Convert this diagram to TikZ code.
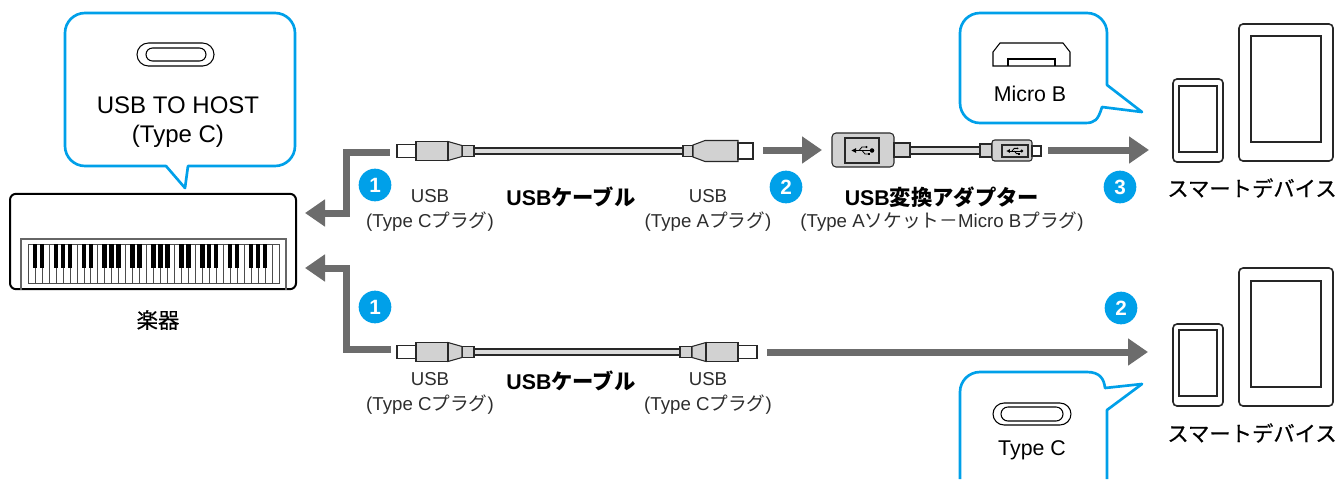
\documentclass[tikz,border=0pt]{standalone}
\usepackage{fontspec}
\setmainfont{Liberation Sans}
\newfontfamily\jp{Noto Sans CJK JP}
\newfontfamily\jpm{Noto Sans CJK JP}[FakeBold=0.6]
\usetikzlibrary{arrows.meta}
\definecolor{callblue}{RGB}{0,160,233}
\definecolor{arrowgray}{RGB}{108,108,108}
\definecolor{pluggray}{RGB}{210,210,210}
\definecolor{plugedge}{RGB}{40,40,40}
\definecolor{labelgray}{RGB}{45,45,45}
\begin{document}
\begin{tikzpicture}[x=0.75pt,y=0.75pt,
  callout/.style={draw=callblue, line width=2pt, fill=white, line join=round},
  flow/.style={draw=arrowgray, line width=5.25pt, -{Triangle[length=15pt,width=19.5pt]}},
  plugline/.style={draw=plugedge, line width=0.8pt, fill=pluggray},
  badge/.style={circle, fill=callblue, text=white, minimum size=24.5pt, inner sep=0pt,
    font=\fontsize{15.5}{15.5}\selectfont\bfseries},
  lab/.style={text=labelgray, inner sep=0pt, align=center, font=\fontsize{14}{16}\selectfont},
  title/.style={text=black, inner sep=0pt, font=\fontsize{16}{18}\selectfont\bfseries},
  devname/.style={inner sep=0pt, font=\fontsize{16}{18}\selectfont\jpm},
  calltext/.style={inner sep=0pt, align=center, font=\fontsize{16}{18}\selectfont},
  port/.style={draw=black, line width=0.8pt},
  device/.style={draw=black!85, line width=1.2pt, rounded corners=3pt, inner sep=0pt},
  screen/.style={draw=black!85, line width=0.8pt},
  pics/cplug/.style={code={
    \draw[plugline] (-12,-5.5) rectangle (0,5.5);
    \draw[plugline] (-26,-9.5) -- (-12,-5.5) -- (-12,5.5) -- (-26,9.5) -- cycle;
    \draw[plugline] (-58,-9.5) rectangle (-26,9.5);
    \draw[plugline,fill=white] (-77,-6.5) rectangle (-58,6.5);
  }},
  pics/aplug/.style={code={
    \draw[plugline] (0,-5.5) rectangle (10,5.5);
    \draw[plugline] (10,-6) -- (22,-10.5) -- (55,-10.5) -- (55,10.5) -- (22,10.5) -- (10,6) -- cycle;
    \draw[plugline,fill=white] (55,-8) rectangle (70,8);
  }},
  pics/usbsym/.style={code={
    \draw[line width=0.6pt] (-9,0) -- (8,0);
    \fill (-11.5,0) -- (-7,2.4) -- (-7,-2.4) -- cycle;
    \fill (9,0) circle[radius=1.7pt];
    \draw[line width=0.6pt] (-4,0) -- (-1,3.5) -- (3,3.5);
    \fill (3.5,3.5) circle[radius=0.9pt];
    \draw[line width=0.6pt] (-1,0) -- (2,-3.5) -- (5,-3.5);
    \fill (4.5,-4.8) rectangle (7,-2.3);
  }}
]
\useasboundingbox (0,0) rectangle (1338,-479);

% ---------- instrument ----------
\node[draw=black, line width=1.5pt, rounded corners=4.5pt, minimum width=214.5pt,
      minimum height=71.5pt, inner sep=0pt] (kbd) at (153,-241.5) {};
\draw[draw=black!60, line width=0.8pt] (21,-290) -- (21,-239) -- (286,-239) -- (286,-290);
\draw[draw=black!70, line width=0.6pt, fill=white] (28,-244) rectangle (279,-283);
\foreach \i in {0,...,35}
  \draw[black!70, line width=0.4pt] ({28+\i*6.972},-244) -- ({28+\i*6.972},-283);
\foreach \i in {0,...,34}{
  \pgfmathtruncatemacro\m{mod(\i,7)}
  \ifnum\m=2\relax\else\ifnum\m=6\relax\else
    \fill[black] ({28+(\i+1)*6.972-2.2},-244) rectangle ++(4.4,-24);
  \fi\fi
}
\node[devname] (kbdname) at (158,-320) {楽器};

% USB TO HOST callout
\draw[callout] (188,-166) -- (275,-166) arc[start angle=-90,end angle=0,radius=15pt]
  -- (295,-33) arc[start angle=0,end angle=90,radius=15pt]
  -- (85,-13) arc[start angle=90,end angle=180,radius=15pt]
  -- (65,-146) arc[start angle=180,end angle=270,radius=15pt]
  -- (166,-166) -- (185,-188) -- cycle;
\draw[port, rounded corners=8.6pt] (137,-43) rectangle (214,-66);
\draw[port, rounded corners=4.9pt] (146,-48) rectangle (206,-61);
\node[calltext, font=\fontsize{18}{22}\selectfont] (hostlabel) at (178,-122)
  {USB TO HOST\\(Type C)};

% ---------- upper route: USB cable + adapter ----------
\draw[plugline, fill=pluggray!80] (474,-148) rectangle (683,-154);
\pic at (474,-151) {cplug};
\pic at (683,-151) {aplug};
\coordinate (c1L) at (390,-152);
\coordinate (c1R) at (763,-150);

\draw[plugline, rounded corners=3pt] (832,-133) rectangle (894,-167);
\draw[plugline] (845,-138) rectangle (879,-163);
\pic at (863,-150.5) {usbsym};
\draw[plugline] (894,-143) rectangle (910,-157);
\draw[plugline, fill=pluggray!80] (910,-147) rectangle (980,-154);
\draw[plugline] (980,-144) rectangle (992,-157);
\draw[plugline, rounded corners=2pt] (992,-140) rectangle (1032,-161);
\draw[plugline] (1002,-145) rectangle (1028,-157);
\pic[scale=0.75] at (1015,-151) {usbsym};
\draw[plugline, fill=white] (1032,-146) rectangle (1041,-156);
\coordinate (adL) at (822,-150);
\coordinate (adR) at (1048,-150);
\coordinate (dev1) at (1149,-150);

% Micro B callout
\draw[callout] (980,-13) -- (1087,-13) arc[start angle=90,end angle=0,radius=15pt]
  -- (1107,-85) -- (1142,-112) -- (1102,-107)
  .. controls (1098,-120) and (1095,-123) .. (1085,-123)
  -- (980,-123) arc[start angle=270,end angle=180,radius=15pt]
  -- (960,-33) arc[start angle=180,end angle=90,radius=15pt] -- cycle;
\draw[port] (1000,-43) -- (1063,-43) -- (1070,-52) -- (1070,-66) -- (993,-66) -- (993,-52) -- cycle;
\draw[port] (1008,-66) -- (1008,-59) -- (1055,-59) -- (1055,-66);
\node[calltext] (microlabel) at (1030,-94) {Micro B};

% smart devices (upper)
\node[device, minimum width=37.5pt, minimum height=62.25pt] (phone1) at (1198,-120.5) {};
\draw[screen] (1179,-86) rectangle (1217,-152);
\node[device, minimum width=70.5pt, minimum height=102.75pt] (tablet1) at (1286,-92.5) {};
\draw[screen] (1251,-36) rectangle (1321,-142);
\node[devname] (devname1) at (1252,-188) {スマートデバイス};

% flow arrows (upper)
\coordinate (bendx) at (346,0);
\coordinate (kin1) at (305,-213);
\coordinate (kin2) at (305,-268);
\draw[flow] (c1L) -- (c1L -| bendx) |- (kin1);
\draw[flow] (c1R) -- (adL);
\draw[flow] (adR) -- (dev1);

% labels (upper)
\node[badge] (b1a) at (375,-185) {1};
\node[badge] (b2a) at (786,-187) {2};
\node[badge] (b3a) at (1120,-187) {3};
\node[lab] (u1a) at (430,-196) {USB};
\node[lab] (t1a) at (430,-222) {(Type C{\jp プラグ})};
\node[title] (cab1) at (571,-197) {USB{\jp\bfseries ケーブル}};
\node[lab] (u2a) at (708,-196) {USB};
\node[lab] (t2a) at (708,-222) {(Type A{\jp プラグ})};
\node[title] (adname) at (942,-197) {USB{\jp\bfseries 変換アダプター}};
\node[lab] (adtype) at (942,-222) {(Type A{\jp ソケット－}Micro B{\jp プラグ})};

% ---------- lower route: USB-C cable ----------
\draw[plugline, fill=pluggray!80] (474,-349) rectangle (680,-355);
\pic at (474,-352) {cplug};
\pic[xscale=-1] at (680,-352) {cplug};
\coordinate (c2L) at (391,-349);
\coordinate (c2R) at (767,-352);
\coordinate (dev2) at (1148,-352);
\draw[flow] (c2L) -- (c2L -| bendx) |- (kin2);
\draw[flow] (c2R) -- (dev2);

\node[badge] (b1b) at (375,-307) {1};
\node[badge] (b2b) at (1121,-308) {2};
\node[lab] (u1b) at (430,-379) {USB};
\node[lab] (t1b) at (430,-405) {(Type C{\jp プラグ})};
\node[title] (cab2) at (571,-381) {USB{\jp\bfseries ケーブル}};
\node[lab] (u2b) at (708,-379) {USB};
\node[lab] (t2b) at (708,-405) {(Type C{\jp プラグ})};

% smart devices (lower)
\node[device, minimum width=37.5pt, minimum height=61.5pt] (phone2) at (1198,-365) {};
\draw[screen] (1179,-330) rectangle (1217,-396);
\node[device, minimum width=70.5pt, minimum height=103.5pt] (tablet2) at (1286,-337) {};
\draw[screen] (1251,-281) rectangle (1321,-387);
\node[devname] (devname2) at (1252,-433) {スマートデバイス};

% Type C callout
\draw[callout] (960,-479) -- (960,-392) arc[start angle=180,end angle=90,radius=15pt]
  -- (1087,-372) .. controls (1100,-372) and (1104,-379) .. (1105,-388)
  -- (1142,-384) -- (1107,-410) -- (1107,-479);
\draw[port, rounded corners=8.3pt] (993,-403) rectangle (1071,-425);
\draw[port, rounded corners=5.2pt] (1001,-407) rectangle (1063,-421);
\node[calltext] (typeclabel) at (1032,-450) {Type C};
\end{tikzpicture}
\end{document}
